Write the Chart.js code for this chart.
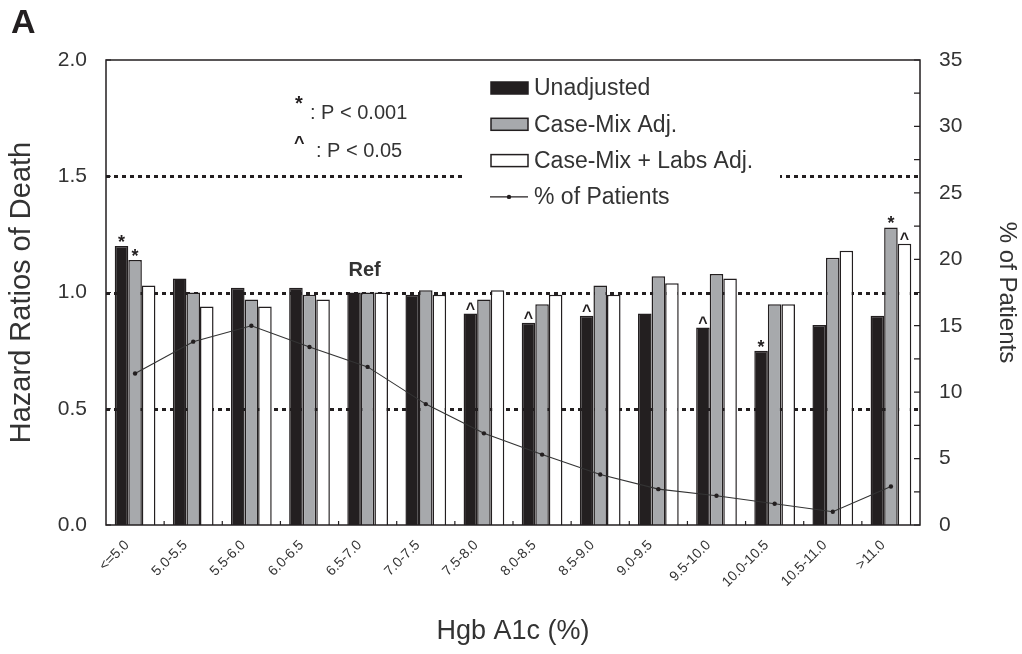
<!DOCTYPE html>
<html>
<head>
<meta charset="utf-8">
<script src="https://cdn.jsdelivr.net/npm/chart.js@4.4.0/dist/chart.umd.min.js"></script>
<style>
  body { margin: 0; background: #fff; }
  canvas { display: block; }
</style>
</head>
<body>
<canvas id="hgbChart" width="1022" height="654"></canvas>
<script>
let categories = ['<=5.0', '5.0-5.5', '5.5-6.0', '6.0-6.5', '6.5-7.0', '7.0-7.5', '7.5-8.0',
  '8.0-8.5', '8.5-9.0', '9.0-9.5', '9.5-10.0', '10.0-10.5', '10.5-11.0', '>11.0'];

// hazard ratios
let unadjusted = [1.20, 1.06, 1.02, 1.02, 1.00, 0.99, 0.91, 0.87, 0.90, 0.91, 0.85, 0.75, 0.86, 0.90];
let caseMix    = [1.14, 1.00, 0.97, 0.99, 1.00, 1.01, 0.97, 0.95, 1.03, 1.07, 1.08, 0.95, 1.15, 1.28];
let caseMixLabs = [1.03, 0.94, 0.94, 0.97, 1.00, 0.99, 1.01, 0.99, 0.99, 1.04, 1.06, 0.95, 1.18, 1.21];

// % of patients, right axis
let pctPatients = [11.4, 13.8, 15.0, 13.4, 11.9, 9.1, 6.9, 5.3, 3.8, 2.7, 2.2, 1.6, 1.0, 2.9];

// significance marks per bar
let sigUnadjusted = ['*', '', '', '', '', '', '^', '^', '^', '', '^', '*', '', ''];
let sigCaseMix    = ['*', '', '', '', '', '', '', '', '', '', '', '', '', '*'];
let sigCaseMixLabs = ['', '', '', '', '', '', '', '', '', '', '', '', '', '^'];

let hrTicks = [0, 0.5, 1.0, 1.5, 2.0];
let refLines = [0.5, 1.0, 1.5];

const FONT = "'Liberation Sans', Arial, Helvetica, sans-serif";
const INK = '#231f20';
const TXT = '#333333';
const GRAY = '#a7a9ac';

const decor = {
  id: 'decor',
  beforeDatasetsDraw(chart) {
    const {ctx, chartArea: a, scales} = chart;
    const y = scales.y;
    ctx.save();
    // dotted reference lines
    ctx.strokeStyle = INK;
    ctx.lineWidth = 3;
    ctx.setLineDash([4, 4]);
    refLines.forEach(v => {
      const py = Math.round(y.getPixelForValue(v)) + 0.5;
      ctx.beginPath();
      ctx.moveTo(a.left, py);
      ctx.lineTo(a.right, py);
      ctx.stroke();
    });
    ctx.setLineDash([]);

    // legend box
    ctx.fillStyle = '#fff';
    ctx.fillRect(464, 64, 316, 150);
    const items = [
      {label: 'Unadjusted', fill: INK},
      {label: 'Case-Mix Adj.', fill: GRAY},
      {label: 'Case-Mix + Labs Adj.', fill: '#ffffff'},
      {label: '% of Patients', line: true}
    ];
    ctx.font = '23px ' + FONT;
    ctx.textBaseline = 'middle';
    ctx.textAlign = 'left';
    items.forEach((it, i) => {
      const cy = 88 + i * 36.3;
      if (it.line) {
        ctx.strokeStyle = INK;
        ctx.lineWidth = 1.2;
        ctx.beginPath();
        ctx.moveTo(490, cy);
        ctx.lineTo(528, cy);
        ctx.stroke();
        ctx.fillStyle = INK;
        ctx.beginPath();
        ctx.arc(509, cy, 2.2, 0, Math.PI * 2);
        ctx.fill();
      } else {
        ctx.fillStyle = it.fill;
        ctx.fillRect(491, cy - 6, 37, 12);
        ctx.strokeStyle = INK;
        ctx.lineWidth = 1.5;
        ctx.strokeRect(491, cy - 6, 37, 12);
      }
      ctx.fillStyle = TXT;
      ctx.fillText(it.label, 534, cy + 1);
    });
    ctx.restore();
  },
  afterDraw(chart) {
    const {ctx, chartArea: a, scales} = chart;
    const x = scales.x, y = scales.y, y1 = scales.y1;
    ctx.save();
    // frame
    ctx.strokeStyle = INK;
    ctx.lineWidth = 1.5;
    ctx.strokeRect(a.left, a.top, a.right - a.left, a.bottom - a.top);

    // inward ticks
    ctx.lineWidth = 1.2;
    ctx.beginPath();
    hrTicks.forEach(v => {
      const py = y.getPixelForValue(v);
      ctx.moveTo(a.left, py); ctx.lineTo(a.left + 5, py);
    });
    for (let v = 0; v <= 35; v += 2.5) {
      const py = y1.getPixelForValue(v);
      ctx.moveTo(a.right, py); ctx.lineTo(a.right - 6, py);
    }
    for (let i = 1; i < categories.length; i++) {
      const px = (x.getPixelForValue(i - 1) + x.getPixelForValue(i)) / 2;
      ctx.moveTo(px, a.bottom); ctx.lineTo(px, a.bottom - 4);
    }
    ctx.stroke();

    // significance marks
    ctx.fillStyle = INK;
    ctx.textAlign = 'center';
    ctx.textBaseline = 'bottom';
    [sigUnadjusted, sigCaseMix, sigCaseMixLabs].forEach((marks, di) => {
      const meta = chart.getDatasetMeta(di);
      marks.forEach((m, j) => {
        if (!m) return;
        const bar = meta.data[j];
        ctx.font = (m === '*' ? 'bold 18px ' : 'bold 16px ') + FONT;
        ctx.fillText(m, bar.x, bar.y + (m === '*' ? 6 : 4));
      });
    });

    // Ref label
    ctx.font = 'bold 20px ' + FONT;
    ctx.fillStyle = TXT;
    ctx.textBaseline = 'middle';
    ctx.fillText('Ref', x.getPixelForValue(4) - 3, 270);

    // p-value notes
    ctx.textAlign = 'left';
    ctx.font = 'bold 20px ' + FONT;
    ctx.fillStyle = INK;
    ctx.fillText('*', 295, 104);
    ctx.font = 'bold 18px ' + FONT;
    ctx.fillText('^', 294, 144);
    ctx.font = '20px ' + FONT;
    ctx.fillStyle = TXT;
    ctx.fillText(': P < 0.001', 310, 113);
    ctx.fillText(': P < 0.05', 316, 151);

    // panel letter
    ctx.font = 'bold 34px ' + FONT;
    ctx.fillStyle = INK;
    ctx.fillText('A', 11, 24);
    ctx.restore();
  }
};

const ctx = document.getElementById('hgbChart').getContext('2d');
const chart = new Chart(ctx, {
  type: 'bar',
  data: {
    labels: categories,
    datasets: [
      {label: 'Unadjusted', data: unadjusted, backgroundColor: INK, borderColor: INK,
        borderWidth: 1.5, yAxisID: 'y', order: 2},
      {label: 'Case-Mix Adj.', data: caseMix, backgroundColor: GRAY, borderColor: INK,
        borderWidth: 1.5, yAxisID: 'y', order: 2},
      {label: 'Case-Mix + Labs Adj.', data: caseMixLabs, backgroundColor: '#ffffff', borderColor: INK,
        borderWidth: 1.5, yAxisID: 'y', order: 2},
      {type: 'line', label: '% of Patients', data: pctPatients, yAxisID: 'y1', order: 0,
        borderColor: '#333', borderWidth: 1.1, pointRadius: 2.2, pointBackgroundColor: INK,
        pointBorderWidth: 0, tension: 0, fill: false}
    ]
  },
  options: {
    responsive: false,
    animation: false,
    categoryPercentage: 0.7,
    barPercentage: 1.0,
    layout: {padding: {top: 60, left: 0, right: 0, bottom: 0}},
    plugins: {legend: {display: false}, tooltip: {enabled: false}},
    scales: {
      x: {
        offset: true,
        grid: {display: false, drawTicks: false},
        border: {display: false},
        ticks: {minRotation: 45, maxRotation: 45, padding: 12, labelOffset: -8,
          color: TXT, font: {family: FONT, size: 14}},
        title: {display: true, text: 'Hgb A1c (%)', color: TXT, font: {family: FONT, size: 27},
          padding: {top: 0, bottom: 6}},
        afterFit(s) { s.height = 129; }
      },
      y: {
        position: 'left',
        min: 0, max: 2,
        grid: {display: false, drawTicks: false},
        border: {display: false},
        ticks: {stepSize: 0.5, padding: 19, color: TXT, font: {family: FONT, size: 21},
          callback: v => v.toFixed(1)},
        title: {display: true, text: 'Hazard Ratios of Death', color: TXT,
          font: {family: FONT, size: 29}, padding: {top: 5, bottom: 0}},
        afterFit(s) { s.width = 106; }
      },
      y1: {
        position: 'right',
        min: 0, max: 35,
        grid: {display: false, drawTicks: false},
        border: {display: false},
        ticks: {stepSize: 5, padding: 19, color: TXT, font: {family: FONT, size: 21}},
        title: {display: true, text: '% of Patients', color: TXT,
          font: {family: FONT, size: 24}, padding: {top: 1, bottom: 0}},
        afterFit(s) { s.width = 102; }
      }
    }
  },
  plugins: [decor]
});
</script>
</body>
</html>
